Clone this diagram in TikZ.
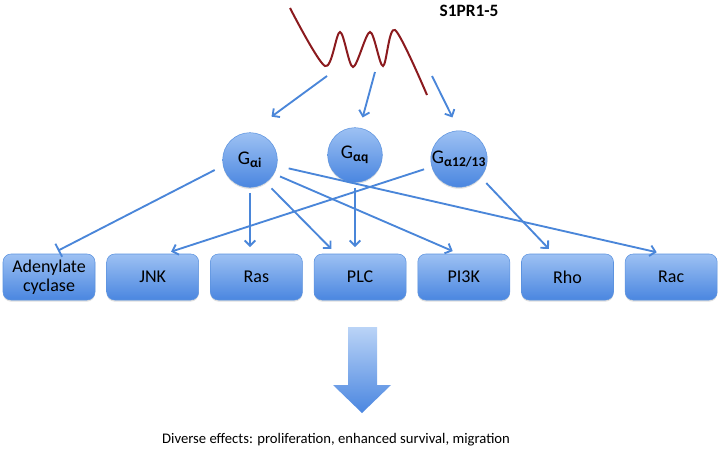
\documentclass[tikz,border=0pt]{standalone}
\usepackage{fontspec}
\setmainfont{Carlito}
\usetikzlibrary{calc, arrows.meta, shadows}

\definecolor{linkblue}{HTML}{4A86D9}
\definecolor{boxtop}{HTML}{9DC1F3}
\definecolor{boxbot}{HTML}{4A86E0}
\definecolor{boxedge}{HTML}{5C93DF}
\definecolor{wavered}{HTML}{8B1A1E}

\begin{document}
\begin{tikzpicture}[x=0.75pt, y=-0.75pt,
  target/.style={draw=boxedge, rounded corners=6pt, top color=boxtop, bottom color=boxbot,
    minimum width=69pt, minimum height=34.5pt, align=center, inner sep=1pt,
    font=\fontsize{13.5}{14}\selectfont,
    drop shadow={opacity=0.25, shadow xshift=0pt, shadow yshift=-1.2pt}},
  gprot/.style={circle, draw=boxedge, top color=boxtop, bottom color=boxbot,
    minimum size=41pt, inner sep=0pt, font=\fontsize{14.5}{15}\selectfont,
    drop shadow={opacity=0.25, shadow xshift=0pt, shadow yshift=-1.2pt}},
  link/.style={draw=linkblue, line width=1.4pt, -{Straight Barb[length=4pt,width=8pt]}},
  block/.style={draw=linkblue, line width=1.4pt, -{Bar[width=11pt]}}]

\newcommand{\boxrow}{277}
\newcommand{\boxgap}{103.7}

\useasboundingbox (0,0) rectangle (720,450);

% receptor
\draw [wavered, line width=1.5pt] plot [smooth, tension=0.5] coordinates
  {(290,8) (325,66) (340,32) (353,67) (370,32) (383,66) (395,30) (427,95)};
\node [font=\bfseries\fontsize{13}{14}\selectfont] (rec) at (469,11) {S1PR1-5};

\coordinate (w1) at (327,76);
\coordinate (w2) at (375,72);
\coordinate (w3) at (432,76);

% G proteins
\node [gprot] (gi) at (250,160) {G\textsubscript{\textbf{αi}}};
\node [gprot] (gq) at (355,155) {G\textsubscript{\textbf{αq}}};
\node [gprot] (g12) at (459,159) {G\textsubscript{\textbf{α12/13}}};

% effectors
\foreach \name/\txt [count=\i] in {aden/{Adenylate\\cyclase}, jnk/JNK, ras/Ras, plc/PLC, pik/PI3K, rho/Rho, rac/Rac}
{
\node [target] (\name) at (49+\i*\boxgap-\boxgap, \boxrow) {\txt};
}

\draw [link, shorten >=20pt] (w1) -- (gi.north);
\draw [link, shorten >=8pt] (w2) -- (gq.80);
\draw [link, shorten >=11pt] (w3) -- (g12.north);

\draw [block, shorten <=7pt, shorten >=5pt] (gi.192) -- ($(aden.north)+(3,0)$);
\draw [link, shorten <=4pt, shorten >=5pt] (gi.south) -- (gi.south |- ras.north);
\draw [link, shorten <=6pt, shorten >=5pt] (gi.-55) -- ($(plc.north)+(-24,0)$);
\draw [link, shorten <=5pt, shorten >=5pt] (gi.-30) -- ($(pik.north)+(-5,0)$);
\draw [link, shorten <=9pt, shorten >=5pt] (gi.-12) -- ($(rac.north)+(-8,0)$);
\draw [link, shorten <=4pt, shorten >=5pt] (gq.south) -- (gq.south |- plc.north);
\draw [link, shorten <=6pt, shorten >=5pt] (g12.196) -- ($(jnk.north)+(12,0)$);
\draw [link, shorten <=6pt, shorten >=5pt] (g12.-40) -- ($(rho.north)+(-14,0)$);

% outcome
\shade [top color=boxtop!70!white, bottom color=boxbot] (348,327) -- (377,327) -- (377,385)
  -- (391,385) -- (362,413) -- (333,385) -- (348,385) -- cycle;
\node [font=\fontsize{11}{12}\selectfont] (out) at (336,440)
  {Diverse effects: proliferation, enhanced survival, migration};

\end{tikzpicture}
\end{document}
